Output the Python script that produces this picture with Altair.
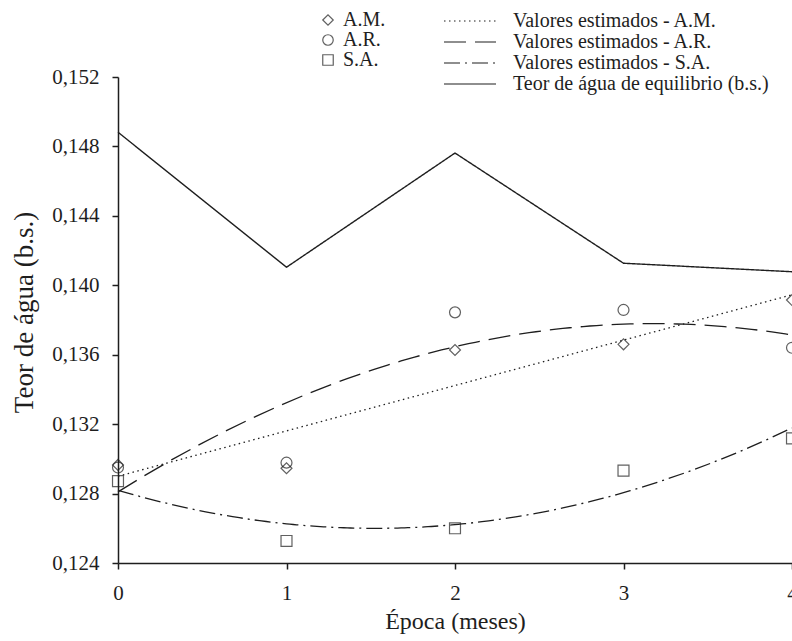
import altair as alt
import pandas as pd

# Observed moisture content (dry basis) per storage month
epocas = [0, 1, 2, 3, 4]
teor_am = [0.12965, 0.12946, 0.13627, 0.13660, 0.13915]
teor_ar = [0.12950, 0.12978, 0.13844, 0.13858, 0.13640]
teor_sa = [0.12872, 0.12527, 0.12600, 0.12932, 0.13118]
# Equilibrium moisture content (dry basis)
teor_equilibrio = [0.14882, 0.14104, 0.14762, 0.14127, 0.14078]

series = ["A.M.", "A.R.", "S.A."]
curvas = [
    "Valores estimados - A.M.",
    "Valores estimados - A.R.",
    "Valores estimados - S.A.",
    "Teor de água de equilibrio (b.s.)",
]
y_ticks = [0.124, 0.128, 0.132, 0.136, 0.140, 0.144, 0.148, 0.152]

FONT = "Liberation Serif"
INK = "#1e1e1e"

obs = pd.DataFrame({
    "epoca": epocas * 3,
    "teor": teor_am + teor_ar + teor_sa,
    "serie": [s for s in series for _ in epocas],
})
eq = pd.DataFrame({"epoca": epocas, "teor": teor_equilibrio, "curva": curvas[3]})

x_scale = alt.Scale(domain=[0, 4], nice=False, zero=False)
y_scale = alt.Scale(domain=[0.124, 0.152], nice=False, zero=False)

x_axis = alt.Axis(
    values=epocas, format="d", grid=False, domainColor=INK, domainWidth=1.5,
    tickColor=INK, tickWidth=1.5, tickSize=6, labelFont=FONT, labelFontSize=21,
    labelColor=INK, labelPadding=13, labelFlush=False, titleFont=FONT, titleFontSize=24,
    titleFontWeight="normal", titleColor=INK, titleX=337, titleY=65,
    titleBaseline="alphabetic",
)
y_axis = alt.Axis(
    values=y_ticks, grid=False, domainColor=INK, domainWidth=1.5, tickColor=INK,
    tickWidth=1.5, tickSize=6, labelFont=FONT, labelFontSize=21, labelColor=INK,
    labelPadding=13, labelFlush=False,
    labelExpr="replace(format(datum.value, '.3f'), '.', ',')",
    titleFont=FONT, titleFontSize=27, titleFontWeight="normal", titleColor=INK,
    titleX=-86, titleY=235, titleBaseline="alphabetic",
)

# Line keys: a long horizontal stroke drawn as a custom symbol path
dash_scale = alt.Scale(
    domain=curvas, range=[[1.5, 3.5], [22, 9], [16, 5, 2, 5], [1, 0]]
)
line_legend = alt.Legend(
    title=None, orient="none", legendX=341, legendY=-67, symbolType="M-2.6,0H2.6",
    symbolSize=400, symbolStrokeWidth=1.2, symbolStrokeColor=INK,
    labelFont=FONT, labelFontSize=20, labelColor=INK, labelOffset=32,
    rowPadding=0, labelLimit=500, padding=0,
)
shape_legend = alt.Legend(
    title=None, orient="none", legendX=200, legendY=-67, symbolSize=110,
    symbolStrokeWidth=1.2, symbolStrokeColor=INK, symbolFillColor="transparent",
    labelFont=FONT, labelFontSize=20, labelColor=INK, labelOffset=5,
    rowPadding=0, padding=0,
)

pontos = alt.Chart(obs).mark_point(
    filled=False, size=120, strokeWidth=1.2, color=INK
).encode(
    x=alt.X("epoca:Q", scale=x_scale, axis=x_axis, title="Época (meses)"),
    y=alt.Y("teor:Q", scale=y_scale, axis=y_axis, title="Teor de água (b.s.)"),
    shape=alt.Shape(
        "serie:N",
        scale=alt.Scale(domain=series, range=["diamond", "circle", "square"]),
        legend=shape_legend,
    ),
)


def estimada(serie, nome, ordem):
    """Least-squares fit of one series, drawn across the whole period."""
    base = alt.Chart(obs).transform_filter(alt.datum.serie == serie)
    if ordem == 1:
        reg = base.transform_regression("epoca", "teor", method="linear", extent=[0, 4])
    else:
        reg = base.transform_regression(
            "epoca", "teor", method="poly", order=ordem, extent=[0, 4]
        )
    return reg.transform_calculate(curva=f'"{nome}"').mark_line(
        color=INK, strokeWidth=1.3
    ).encode(
        x=alt.X("epoca:Q", scale=x_scale),
        y=alt.Y("teor:Q", scale=y_scale),
        strokeDash=alt.StrokeDash("curva:N", scale=dash_scale, legend=line_legend),
    )


linha_eq = alt.Chart(eq).mark_line(color=INK, strokeWidth=1.4).encode(
    x=alt.X("epoca:Q", scale=x_scale),
    y=alt.Y("teor:Q", scale=y_scale),
    strokeDash=alt.StrokeDash("curva:N", scale=dash_scale, legend=line_legend),
)

chart = alt.layer(
    linha_eq,
    estimada("A.M.", curvas[0], 1),
    estimada("A.R.", curvas[1], 2),
    estimada("S.A.", curvas[2], 2),
    pontos,
).properties(
    width=674, height=486,
    autosize=alt.AutoSizeParams(type="none"),
    padding={"left": 118, "top": 77, "right": 0, "bottom": 72},
    background="white",
).configure(
    font=FONT
).configure_view(
    stroke=None
).configure_axis(
    labelFont=FONT, titleFont=FONT
).configure_legend(
    labelFont=FONT
)

chart.save("out.html", embed_options={"renderer": "svg", "actions": False})
